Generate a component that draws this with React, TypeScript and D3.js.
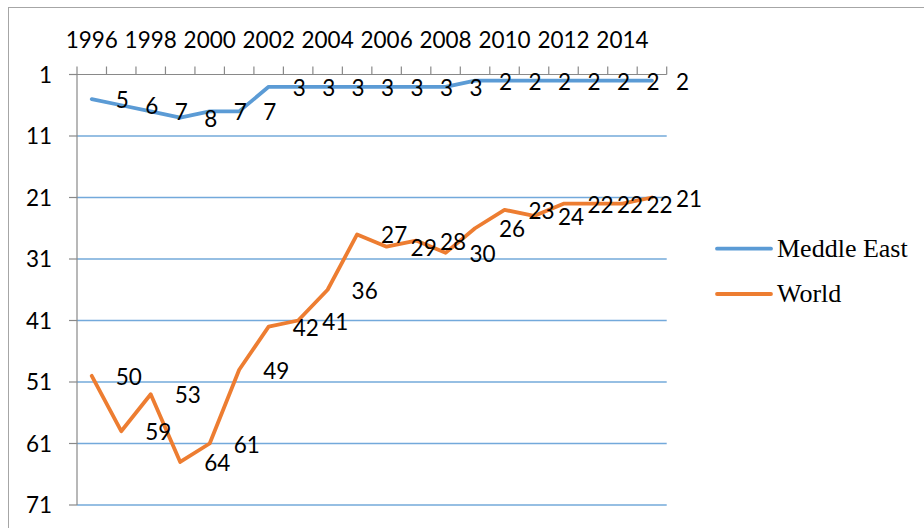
import React from "react";
import * as d3 from "d3";

const years: number[] = [1996, 1997, 1998, 1999, 2000, 2001, 2002, 2003, 2004, 2005, 2006, 2007, 2008, 2009, 2010, 2011, 2012, 2013, 2014, 2015];
const middleEast: number[] = [5, 6, 7, 8, 7, 7, 3, 3, 3, 3, 3, 3, 3, 2, 2, 2, 2, 2, 2, 2];
const world: number[] = [50, 59, 53, 64, 61, 49, 42, 41, 36, 27, 29, 28, 30, 26, 23, 24, 22, 22, 22, 21];
const yTicks: number[] = [1, 11, 21, 31, 41, 51, 61, 71];
const yearLabels: number[] = [1996, 1998, 2000, 2002, 2004, 2006, 2008, 2010, 2012, 2014];
const seriesNames: string[] = ["Meddle East", "World"];

const BLUE = "#5B9BD5";
const ORANGE = "#ED7D31";
const AXIS = "#898989";
const FONT = "Lato, 'Open Sans', sans-serif";
const SERIF = "'Liberation Serif', 'Times New Roman', serif";

export default function App() {
  const W = 924, H = 528;
  const left = 77, right = 666.7, top = 74.5, bottom = 505;

  const x = d3.scaleBand<number>().domain(years).range([left, right]).padding(0);
  const cx = (yr: number) => (x(yr) as number) + x.bandwidth() / 2;
  const y = d3.scaleLinear().domain([1, 71]).range([top, bottom]);

  const line = d3
    .line<number>()
    .x((_, i) => cx(years[i]))
    .y((d) => y(d));

  const series = [
    { name: seriesNames[0], values: middleEast, color: BLUE },
    { name: seriesNames[1], values: world, color: ORANGE },
  ];

  const boundaries = years.map((yr) => x(yr) as number).concat([right]);

  return (
    <svg width={W} height={H} style={{ position: "absolute", left: 0, top: 0, background: "#fff" }}>
      <rect x={8.5} y={7.5} width={1000} height={1000} fill="#fff" stroke="#a6a6a6" strokeWidth={1} />

      {yTicks.slice(1).map((t) => (
        <line key={"g" + t} x1={left} x2={right} y1={y(t)} y2={y(t)} stroke={BLUE} strokeWidth={1.3} opacity={0.85} />
      ))}

      <line x1={left} x2={left} y1={top} y2={bottom} stroke={AXIS} strokeWidth={1.2} />
      {yTicks.map((t) => (
        <g key={"yt" + t}>
          <line x1={69} x2={left} y1={y(t)} y2={y(t)} stroke={AXIS} strokeWidth={1.2} />
          <text x={52} y={y(t) + 8} textAnchor="end" style={{ fontFamily: FONT, fontSize: 22.5 }} fill="#000">
            {t}
          </text>
        </g>
      ))}

      <line x1={left} x2={right} y1={top} y2={top} stroke={AXIS} strokeWidth={1.2} />
      {boundaries.map((bx, i) => (
        <line key={"xt" + i} x1={bx} x2={bx} y1={66.5} y2={top} stroke={AXIS} strokeWidth={1.2} />
      ))}
      {yearLabels.map((yr) => (
        <text key={"yl" + yr} x={cx(yr)} y={48} textAnchor="middle" style={{ fontFamily: FONT, fontSize: 22.5 }} fill="#000">
          {yr}
        </text>
      ))}

      {series.map((s) => (
        <path
          key={s.name}
          d={line(s.values) as string}
          fill="none"
          stroke={s.color}
          strokeWidth={3.8}
          strokeLinejoin="round"
          strokeLinecap="round"
        />
      ))}

      {series.map((s) =>
        s.values.map((v, i) => (
          <text
            key={s.name + "l" + i}
            x={cx(years[i]) + 24}
            y={y(v) + 9}
            style={{ fontFamily: FONT, fontSize: 22.5 }}
            fill="#000"
          >
            {v}
          </text>
        ))
      )}

      {series.map((s, i) => (
        <g key={"lg" + s.name} transform={`translate(0, ${248.7 + i * 45.3})`}>
          <line x1={717} x2={771} y1={0} y2={0} stroke={s.color} strokeWidth={3.8} strokeLinecap="round" />
          <text x={777} y={8.2} style={{ fontFamily: SERIF, fontSize: 26 }} fill="#000">
            {s.name}
          </text>
        </g>
      ))}
    </svg>
  );
}
